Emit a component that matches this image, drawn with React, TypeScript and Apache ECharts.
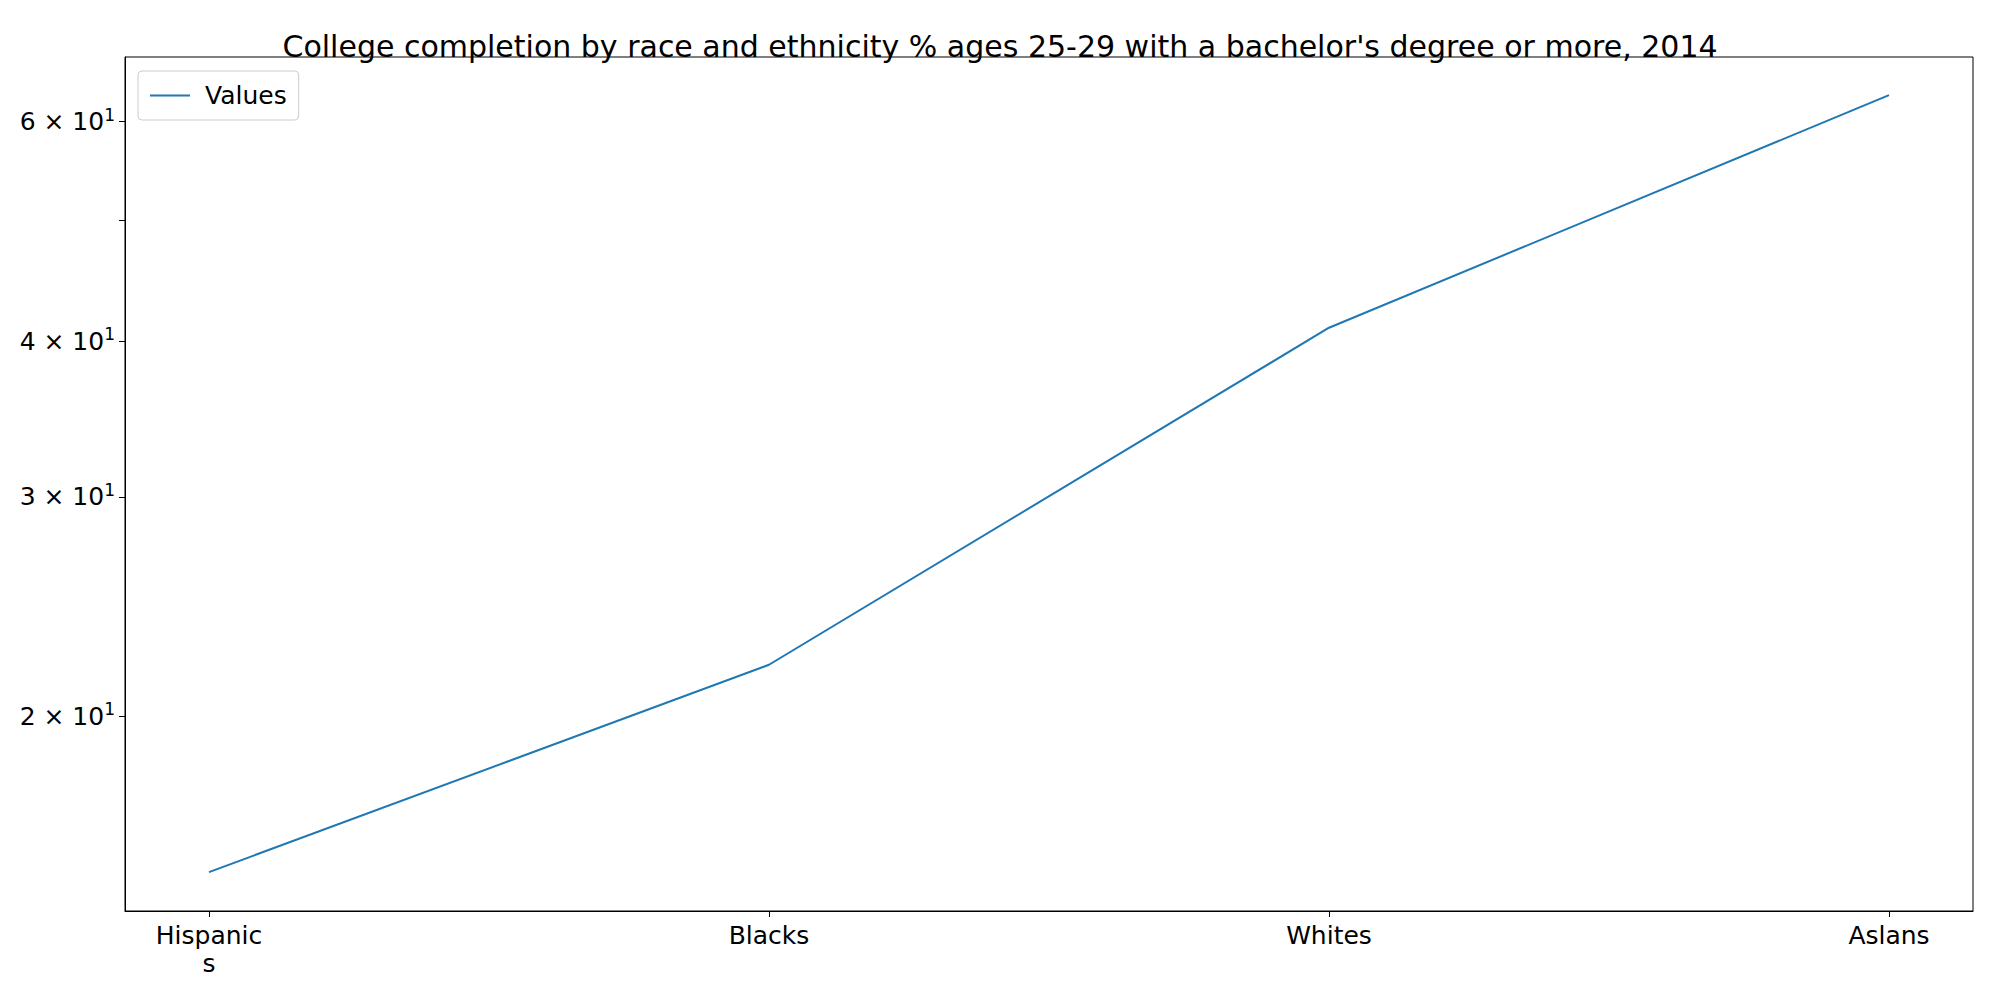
import React, { useEffect, useRef } from "react";
import * as echarts from "echarts";

const categories = ["Hispanic\ns", "Blacks", "Whites", "Aslans"];
const values = [15, 22, 41, 63];
const yLabelTicks = [20, 30, 40, 60];
const yAllTicks = [20, 30, 40, 50, 60];

const App: React.FC = () => {
  const chartRef = useRef<HTMLDivElement | null>(null);

  useEffect(() => {
    if (!chartRef.current) return;
    const chart = echarts.init(chartRef.current, undefined, { renderer: "svg" });
    const font = "DejaVu Sans";
    chart.setOption({
      animation: false,
      textStyle: { fontFamily: font },
      title: {
        text: "College completion by race and ethnicity % ages 25-29 with a bachelor's degree or more, 2014",
        left: "center",
        top: 18,
        textStyle: { fontFamily: font, fontSize: 30, fontWeight: "normal", color: "#000" },
      },
      legend: {
        left: 130,
        top: 63,
        padding: [12, 12],
        borderColor: "#ccc",
        borderWidth: 1,
        borderRadius: 4,
        itemWidth: 40,
        itemHeight: 2,
        icon: "rect",
        textStyle: { fontFamily: font, fontSize: 25, color: "#000", padding: [0, 0, 0, 10] },
        data: ["Values"],
      },
      grid: {
        left: 117,
        right: 19,
        top: 49,
        bottom: 81,
        show: true,
        borderColor: "#000",
        borderWidth: 1,
      },
      xAxis: {
        type: "value",
        min: -0.15,
        max: 3.15,
        splitLine: { show: false },
        axisLine: { onZero: false, lineStyle: { color: "#000" } },
        axisTick: { customValues: [0, 1, 2, 3], length: 6, lineStyle: { color: "#000" } },
        axisLabel: {
          customValues: [0, 1, 2, 3],
          formatter: (v: number) => categories[Math.round(v)] ?? "",
          fontSize: 25,
          color: "#000",
          lineHeight: 28,
          margin: 10,
        },
      },
      yAxis: {
        type: "log",
        logBase: 10,
        min: 13.96,
        max: 67.6,
        splitLine: { show: false },
        axisLine: { show: true, onZero: false, lineStyle: { color: "#000" } },
        axisTick: { show: true, customValues: yAllTicks, length: 6, lineStyle: { color: "#000" } },
        axisLabel: {
          customValues: yLabelTicks,
          formatter: (v: number) => `{a|${Math.round(v / 10)} × 10}{b|1}`,
          color: "#000",
          margin: 10,
          rich: {
            a: { fontSize: 25, color: "#000", fontFamily: font },
            b: { fontSize: 17, color: "#000", fontFamily: font, verticalAlign: "top", padding: [0, 0, 14, 0] },
          },
        },
      },
      series: [
        {
          name: "Values",
          type: "line",
          data: values.map((v, i) => [i, v]),
          showSymbol: false,
          lineStyle: { color: "#1f77b4", width: 2 },
          itemStyle: { color: "#1f77b4" },
        },
      ],
    });
    return () => chart.dispose();
  }, []);

  return <div ref={chartRef} style={{ width: "1984px", height: "984px" }} />;
};

export default App;
